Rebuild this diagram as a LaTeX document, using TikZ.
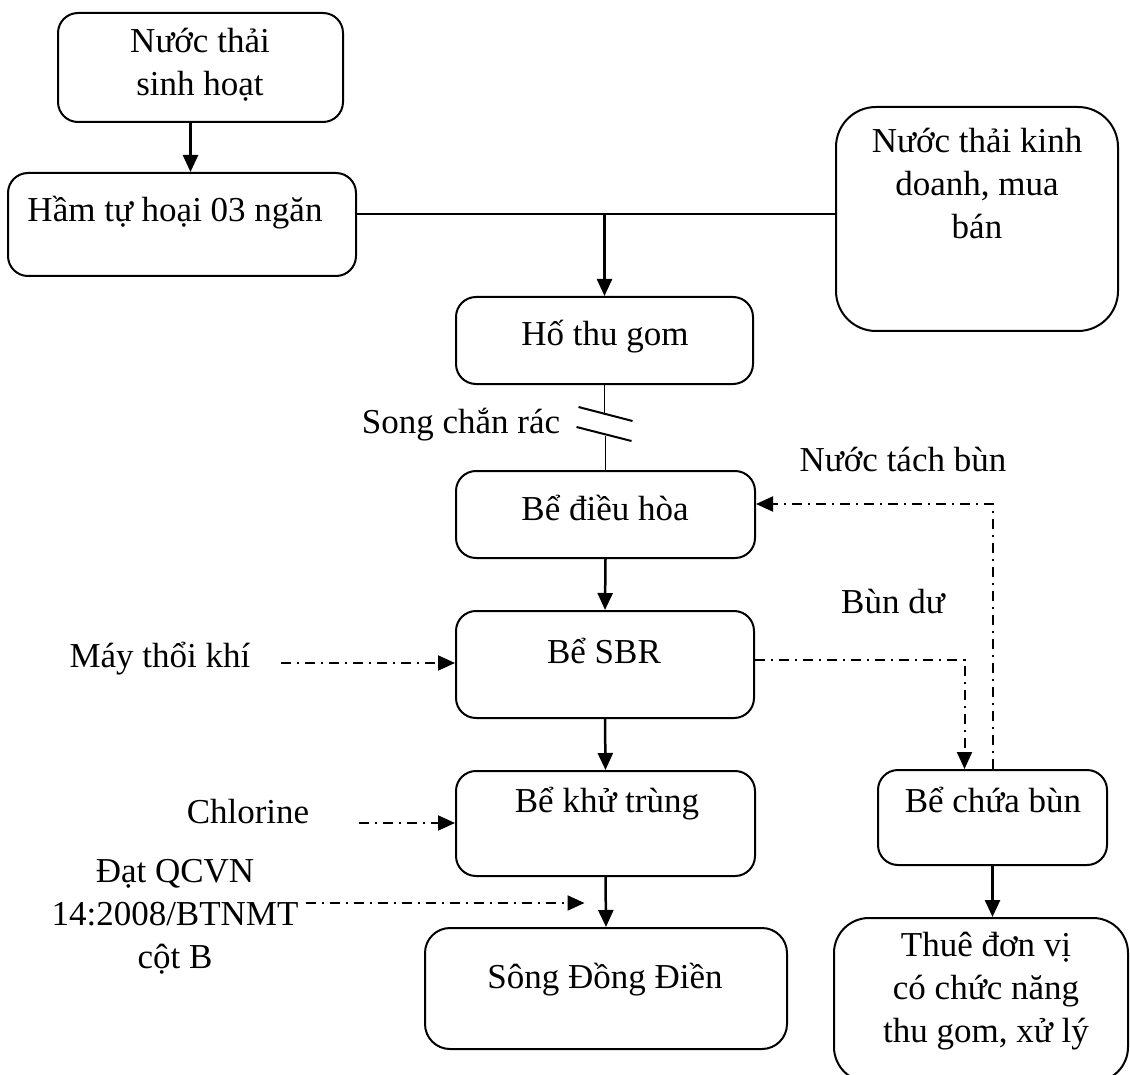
\documentclass[tikz,border=0pt]{standalone}
\usepackage{fontspec}
\setmainfont{Liberation Serif}
\usetikzlibrary{arrows.meta,positioning}
\tikzset{>={Triangle[length=17pt,width=15pt]}}
\tikzset{
  box/.style={draw, line width=2pt, rounded corners=20pt, inner sep=0pt},
  lbl/.style={inner sep=0pt, align=center, anchor=base},
  flow/.style={->, line width=2.5pt},
  aux/.style={->, line width=2pt, dash pattern=on 10pt off 6pt on 2pt off 6pt},
}

\begin{document}
\begin{tikzpicture}[x=1pt,y=-1pt,font=\fontsize{35}{43}\selectfont]
  \useasboundingbox (0,0) rectangle (1130,1075);

  % boxes
  \node[box, minimum width=285pt, minimum height=109pt] at (200.5,67.5) (nuocsh) {};
  \node[box, minimum width=348pt, minimum height=103pt] at (182,224.5) (ham) {};
  \node[box, rounded corners=40pt, minimum width=282pt, minimum height=224pt] at (977,219) (kinhdoanh) {};
  \node[box, minimum width=297pt, minimum height=87pt] at (604.5,340.5) (hothu) {};
  \node[box, minimum width=299pt, minimum height=87pt] at (605.5,514.5) (dieuhoa) {};
  \node[box, minimum width=298pt, minimum height=107pt] at (605,664.5) (sbr) {};
  \node[box, minimum width=299pt, minimum height=105pt] at (605.5,823.5) (khutrung) {};
  \node[box, rounded corners=25pt, minimum width=362pt, minimum height=121pt] at (606,988.5) (song) {};
  \node[box, minimum width=229pt, minimum height=95pt] at (992.5,817.5) (chuabun) {};
  \node[box, rounded corners=35pt, minimum width=294pt, minimum height=164pt] at (981,1000) (thuedv) {};

  % texts (base = last line)
  \node[lbl] at (200,96) (tnuocsh) {Nước thải\\sinh hoạt};
  \node[lbl] at (175,222) (tham) {Hầm tự hoại 03 ngăn};
  \node[lbl] at (977,239) (tkinhdoanh) {Nước thải kinh\\doanh, mua\\bán};
  \node[lbl] at (605,345) (thothu) {Hố thu gom};
  \node[lbl] at (461,433) (tsong) {Song chắn rác};
  \node[lbl] at (903,471) (ttach) {Nước tách bùn};
  \node[lbl] at (605,520) (tdieuhoa) {Bể điều hòa};
  \node[lbl] at (893,613) (tbundu) {Bùn dư};
  \node[lbl] at (160,667) (tmay) {Máy thổi khí};
  \node[lbl] at (604,663) (tsbr) {Bể SBR};
  \node[lbl] at (248,823) (tclo) {Chlorine};
  \node[lbl] at (607,812) (tkhutrung) {Bể khử trùng};
  \node[lbl] at (993,812) (tchuabun) {Bể chứa bùn};
  \node[lbl] at (175,968) (tdat) {Đạt QCVN\\14:2008/BTNMT\\cột B};
  \node[lbl] at (605,988) (tsongdd) {Sông Đồng Điền};
  \node[lbl] at (986,1042) (tthuedv) {Thuê đơn vị\\có chức năng\\thu gom, xử lý};

  % main flow
  \draw[flow] ([xshift=-10pt]nuocsh.south) -- ([xshift=-10pt]nuocsh.south |- ham.north);
  \coordinate (hl) at ([yshift=10.5pt]ham.east);
  \draw[line width=1.5pt] (hl) -- (hl -| kinhdoanh.west);
  \draw[flow] (hl -| hothu.north) -- (hothu.north);
  \draw[line width=1.5pt] (hothu.south) -- ++(0,28);
  \draw[line width=1.5pt] (dieuhoa.north) -- ++(0,-34);
  \draw[line width=2pt] (hothu.south) ++(-26,22) -- ++(54,14);
  \draw[line width=2pt] (hothu.south) ++(-28,42) -- ++(55,14);
  \draw[flow] (dieuhoa.south) -- (sbr.north);
  \draw[flow] (sbr.south) -- (khutrung.north);
  \draw[flow] (khutrung.south) -- (song.north);
  \draw[flow] (chuabun.south) -- (chuabun.south |- thuedv.north);

  % dash-dot lines
  \draw[aux] ([shift={(30pt,4pt)}]tmay.base east) coordinate (am) -- (am -| sbr.west);
  \draw[aux] ([xshift=50pt]tclo.base east) coordinate (ac) -- (ac -| khutrung.west);
  \coordinate (qc) at ([xshift=-21pt]khutrung.south);
  \draw[aux] ([shift={(7pt,65pt)}]tdat.base east) coordinate (ad) -- (ad -| qc);
  \draw[aux] ([yshift=5pt]sbr.east) -| ([xshift=-28pt]chuabun.north);
  \draw[aux] (chuabun.north) |- ([yshift=10.5pt]dieuhoa.east);
\end{tikzpicture}
\end{document}
